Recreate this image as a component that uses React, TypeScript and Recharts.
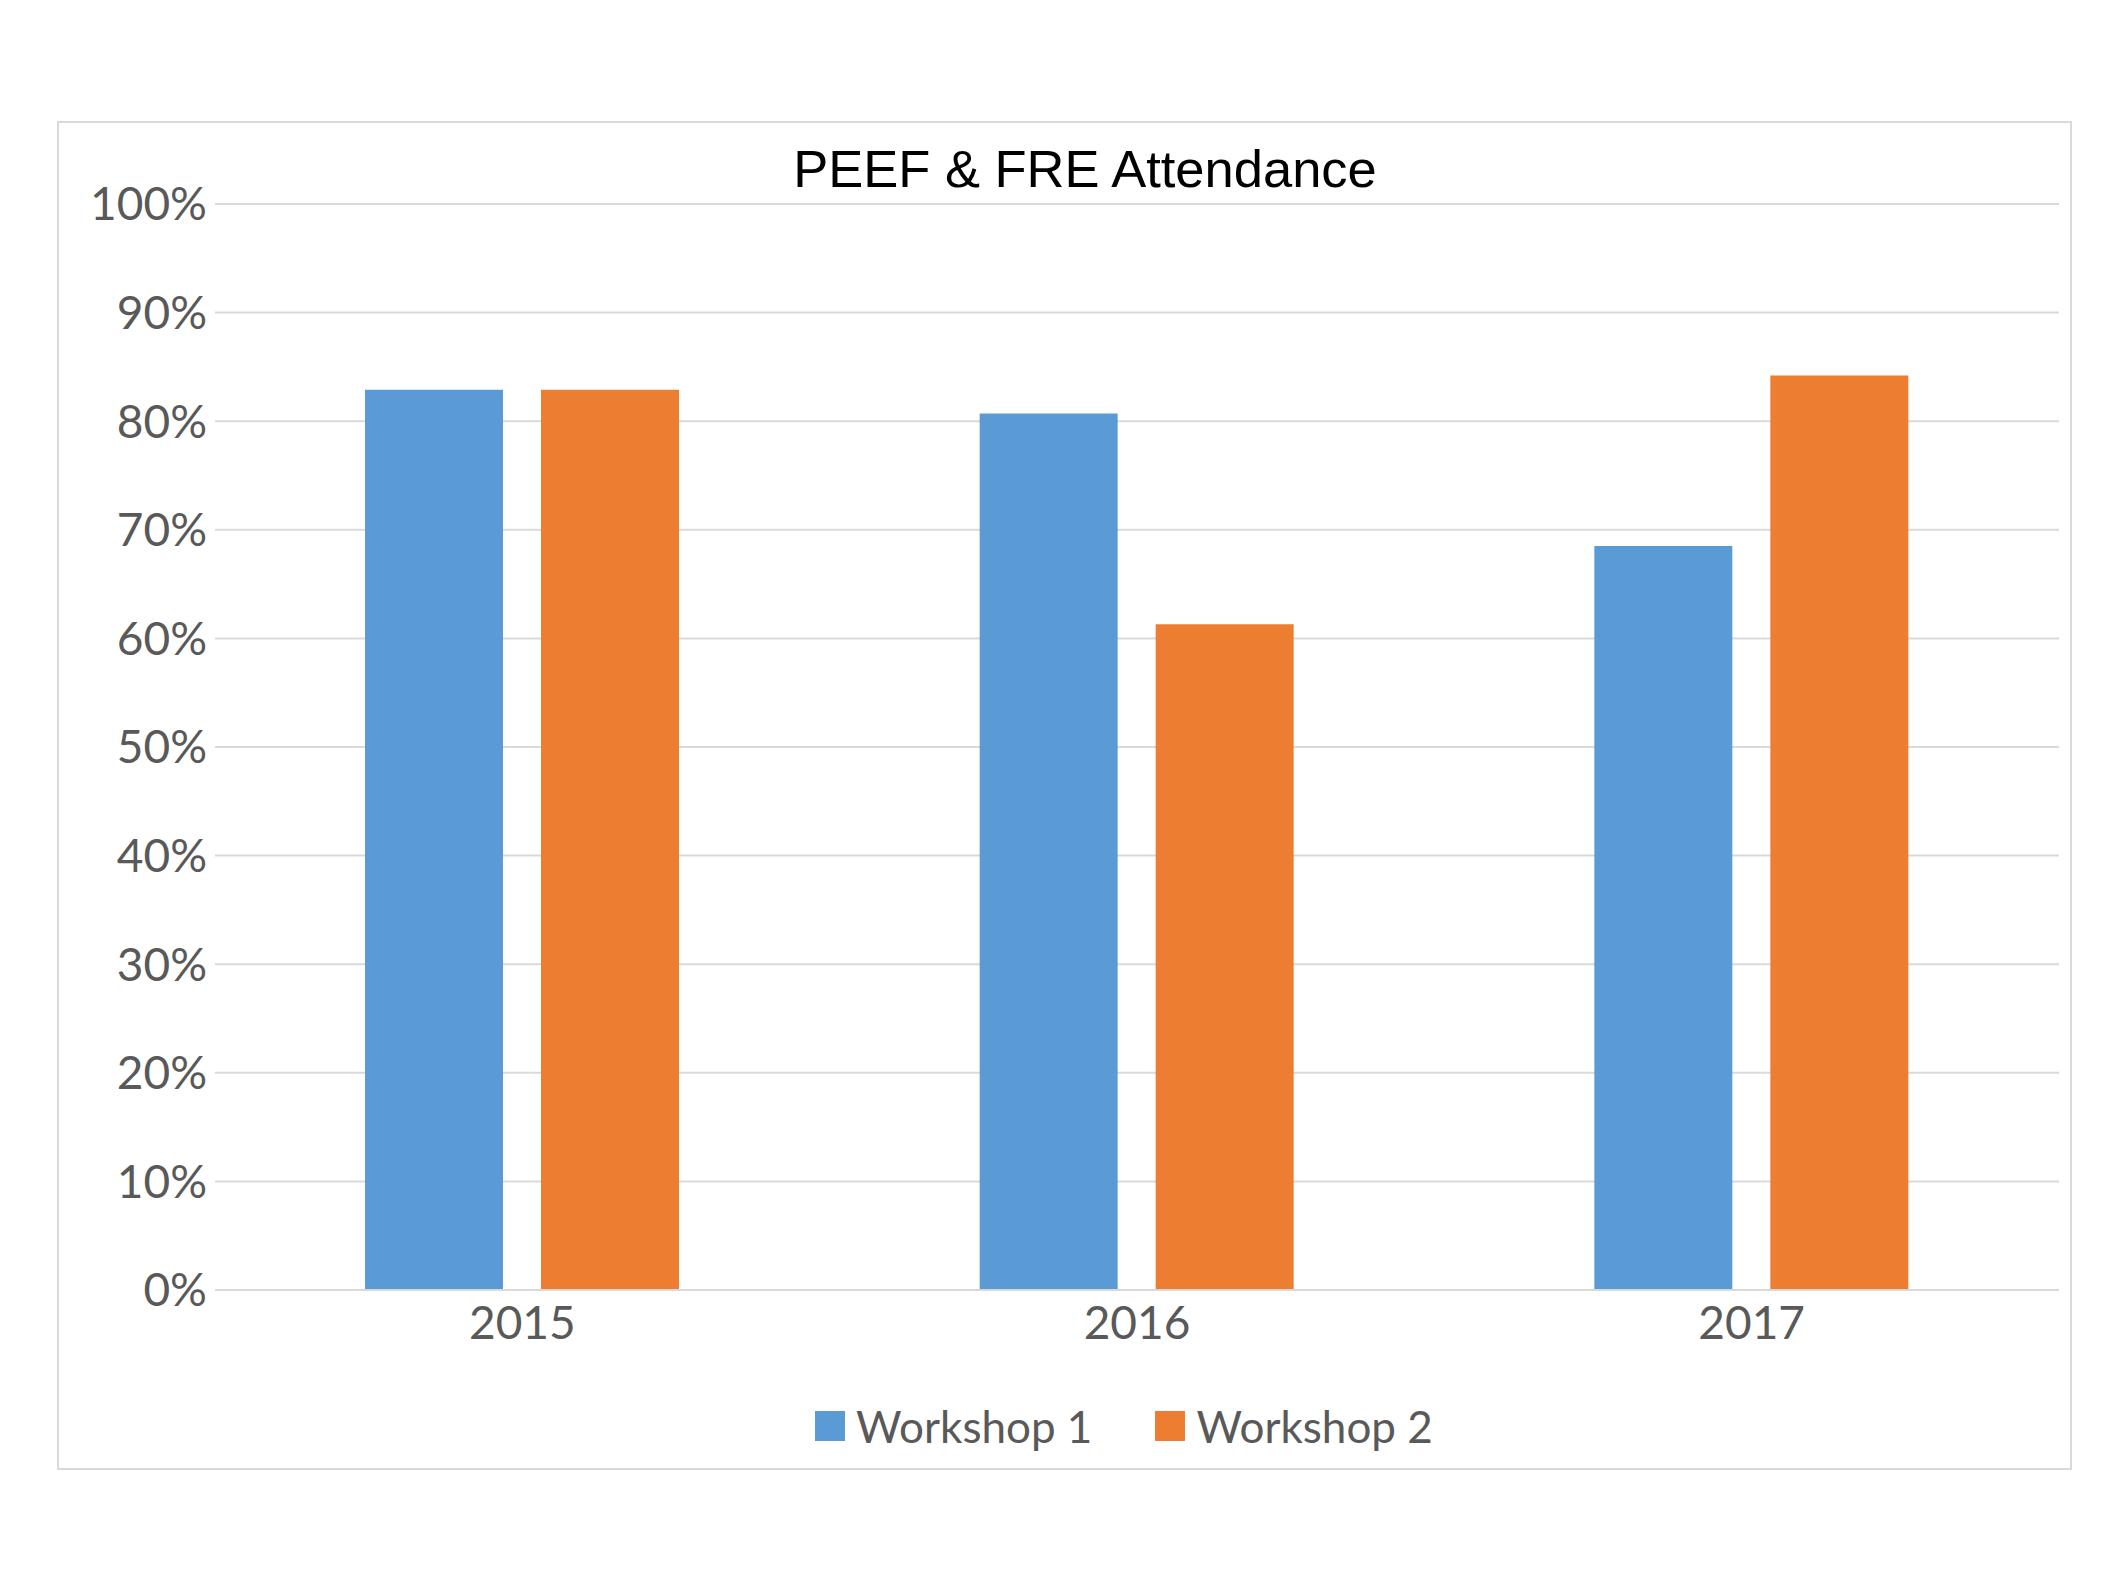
import React from "react";
import { BarChart, Bar, XAxis, YAxis, CartesianGrid } from "recharts";

const years = ["2015", "2016", "2017"];
const workshop1 = [0.829, 0.807, 0.685];
const workshop2 = [0.829, 0.613, 0.842];
const yTicks = [0, 0.1, 0.2, 0.3, 0.4, 0.5, 0.6, 0.7, 0.8, 0.9, 1];
const seriesNames = ["Workshop 1", "Workshop 2"];
const seriesColors = ["#5B9BD5", "#ED7D31"];

const data = years.map((y, i) => ({ year: y, w1: workshop1[i], w2: workshop2[i] }));

const FONT = "Lato, 'Open Sans', sans-serif";

const LegendBox = () => (
  <div
    style={{
      position: "absolute",
      left: 815,
      top: 1403,
      display: "flex",
      alignItems: "center",
      fontFamily: FONT,
      fontSize: 44,
      color: "#595959",
    }}
  >
    {seriesNames.map((n, i) => (
      <div key={n} style={{ display: "flex", alignItems: "center", marginRight: i === 0 ? 63 : 0 }}>
        <div style={{ width: 30, height: 30, background: seriesColors[i], marginRight: 11 }} />
        <span style={{ lineHeight: "46px" }}>{n}</span>
      </div>
    ))}
  </div>
);

export default function App() {
  return (
    <div style={{ position: "absolute", left: 0, top: 0, width: 2117, height: 1587, background: "#fff" }}>
      <div
        style={{
          position: "absolute",
          left: 57,
          top: 121,
          width: 2011,
          height: 1345,
          border: "2px solid #d9d9d9",
        }}
      />
      <div
        style={{
          position: "absolute",
          left: 0,
          width: 2170,
          top: 139,
          textAlign: "center",
          fontFamily: "'Liberation Sans', Arial, sans-serif",
          fontSize: 52.5,
          lineHeight: "60px",
          color: "#000",
        }}
      >
        PEEF &amp; FRE Attendance
      </div>
      <div style={{ position: "absolute", left: 0, top: 0 }}>
        <BarChart
          width={2117}
          height={1587}
          data={data}
          margin={{ top: 204, right: 58, bottom: 197, left: 0 }}
          barSize={138}
          barGap={38}
        >
          <CartesianGrid vertical={false} stroke="#d9d9d9" strokeWidth={2} />
          <XAxis
            dataKey="year"
            height={100}
            axisLine={{ stroke: "#d9d9d9", strokeWidth: 2 }}
            tickLine={false}
            tickMargin={10}
            tick={{ fill: "#595959", fontSize: 46, fontFamily: FONT }}
          />
          <YAxis
            width={215}
            domain={[0, 1]}
            ticks={yTicks}
            interval={0}
            axisLine={false}
            tickLine={false}
            tickFormatter={(v: number) => `${Math.round(v * 100)}%`}
            tick={{ fill: "#595959", fontSize: 46, fontFamily: FONT }}
          />
          <Bar dataKey="w1" name={seriesNames[0]} fill={seriesColors[0]} isAnimationActive={false} />
          <Bar dataKey="w2" name={seriesNames[1]} fill={seriesColors[1]} isAnimationActive={false} />
        </BarChart>
      </div>
      <LegendBox />
    </div>
  );
}
